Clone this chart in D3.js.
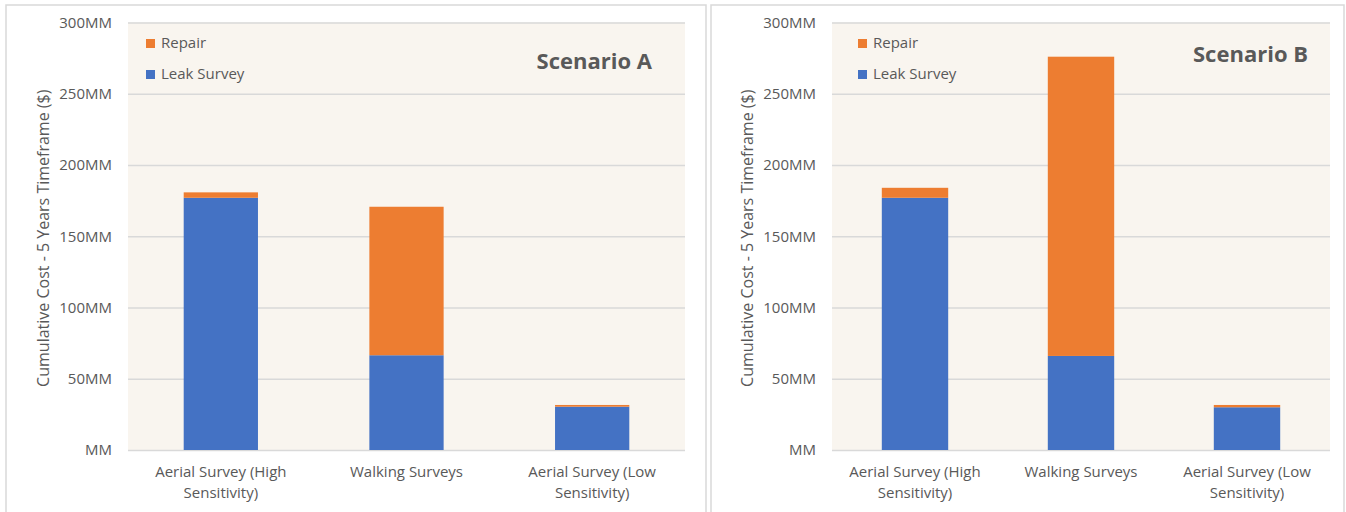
<!DOCTYPE html>
<html>
<head>
<meta charset="utf-8">
<script src="https://cdn.jsdelivr.net/npm/d3@7"></script>
<style>
  html, body { margin: 0; padding: 0; background: #ffffff; }
  svg { display: block; font-family: "Open Sans", "Noto Sans", sans-serif; }
</style>
</head>
<body>
<svg id="chart" width="1346" height="512"></svg>
<script>
// Survey approaches compared in both scenarios
const categories = ["Aerial Survey (High Sensitivity)", "Walking Surveys", "Aerial Survey (Low Sensitivity)"];

// Cumulative cost over 5 years, millions of dollars
const scenarioALeakSurvey = [177, 66.5, 30.4];
const scenarioARepair     = [3.8, 104.2, 1.2];
const scenarioBLeakSurvey = [177, 66, 30];
const scenarioBRepair     = [7, 210, 1.6];

const seriesNames = ["Leak Survey", "Repair"];
const legendOrder = ["Repair", "Leak Survey"];
const yTicks = [0, 50, 100, 150, 200, 250, 300];
const yTitle = "Cumulative Cost - 5 Years Timeframe ($)";

const colors = { "Leak Survey": "#4472C4", "Repair": "#ED7D31" };
const textColor = "#595959";

const svg = d3.select("#chart");

function wrapLabel(textSel, width) {
  textSel.each(function () {
    const text = d3.select(this);
    const words = text.text().split(/\s+/);
    const x = text.attr("x");
    const y = text.attr("y");
    text.text(null);
    let line = [];
    let lineNo = 0;
    let tspan = text.append("tspan").attr("x", x).attr("y", y);
    words.forEach(w => {
      line.push(w);
      tspan.text(line.join(" "));
      if (tspan.node().getComputedTextLength() > width && line.length > 1) {
        line.pop();
        tspan.text(line.join(" "));
        line = [w];
        lineNo++;
        tspan = text.append("tspan").attr("x", x).attr("y", y)
          .attr("dy", (lineNo * 21) + "px").text(w);
      }
    });
  });
}

function drawPanel(cfg) {
  const g = svg.append("g");

  // panel frame
  g.append("rect")
    .attr("x", cfg.frame[0]).attr("y", cfg.frame[1])
    .attr("width", cfg.frame[2]).attr("height", cfg.frame[3])
    .attr("fill", "#ffffff").attr("stroke", "#D9D9D9").attr("stroke-width", 1.5);

  const x = d3.scaleBand().domain(categories)
    .range([cfg.plot.left, cfg.plot.right]).paddingInner(0.6).paddingOuter(0.3);
  const y = d3.scaleLinear().domain([0, 300]).range([cfg.plot.bottom, cfg.plot.top]);

  // plot area fill
  g.append("rect")
    .attr("x", cfg.plot.left).attr("y", cfg.plot.top)
    .attr("width", cfg.plot.right - cfg.plot.left)
    .attr("height", cfg.plot.bottom - cfg.plot.top)
    .attr("fill", "#F9F5EF");

  // gridlines + y tick labels
  const yAxis = d3.axisLeft(y).tickValues(yTicks).tickSize(-(cfg.plot.right - cfg.plot.left))
    .tickPadding(16).tickFormat(d => d === 0 ? "MM" : d + "MM");
  const ya = g.append("g").attr("transform", `translate(${cfg.plot.left},0)`).call(yAxis)
    .attr("font-family", null).attr("font-size", null);
  ya.select(".domain").remove();
  ya.selectAll(".tick line").attr("stroke", "#D9D9D9").attr("stroke-width", 1.5);
  ya.selectAll(".tick text").attr("fill", textColor).style("font-size", "15px");

  // stacked bars
  const rows = categories.map((c, i) => ({ cat: c, "Leak Survey": cfg.leak[i], "Repair": cfg.repair[i] }));
  const stacked = d3.stack().keys(seriesNames)(rows);
  g.append("g").selectAll("g").data(stacked).join("g")
    .attr("fill", s => colors[s.key])
    .selectAll("rect").data(s => s).join("rect")
    .attr("x", d => x(d.data.cat))
    .attr("width", x.bandwidth())
    .attr("y", d => y(d[1]))
    .attr("height", d => y(d[0]) - y(d[1]));

  // x category labels
  const xa = g.append("g").attr("transform", `translate(0,${cfg.plot.bottom})`)
    .call(d3.axisBottom(x).tickSize(0).tickPadding(0))
    .attr("font-family", null).attr("font-size", null);
  xa.select(".domain").remove();
  xa.selectAll(".tick text").remove();
  xa.selectAll(".tick").append("text")
    .attr("x", 0).attr("y", 27)
    .attr("text-anchor", "middle")
    .attr("fill", textColor).style("font-size", "15px")
    .text(d => d)
    .call(wrapLabel, x.step() * 0.95);

  // y axis title
  g.append("text")
    .attr("transform", `translate(${cfg.yTitleX},${(cfg.plot.top + cfg.plot.bottom) / 2 + 2}) rotate(-90)`)
    .attr("text-anchor", "middle")
    .attr("fill", textColor).style("font-size", "16px")
    .text(yTitle);

  // legend
  legendOrder.forEach((name, i) => {
    const ly = cfg.legend[1] + i * 31;
    g.append("rect").attr("x", cfg.legend[0]).attr("y", ly - 9)
      .attr("width", 9).attr("height", 9).attr("fill", colors[name]);
    g.append("text").attr("x", cfg.legend[0] + 15).attr("y", ly)
      .attr("fill", textColor).style("font-size", "15px").text(name);
  });

  // scenario title
  g.append("text")
    .attr("x", cfg.title[0]).attr("y", cfg.title[1])
    .attr("text-anchor", "end")
    .attr("fill", textColor).style("font-size", "22px").style("font-weight", "bold")
    .text(cfg.titleText);
}

drawPanel({
  frame: [6, 5, 700, 520],
  plot: { left: 128, right: 685, top: 22.5, bottom: 450 },
  leak: scenarioALeakSurvey, repair: scenarioARepair,
  yTitleX: 49, legend: [146, 48], title: [652, 69], titleText: "Scenario A"
});

drawPanel({
  frame: [711, 5, 633, 520],
  plot: { left: 832, right: 1330, top: 22.5, bottom: 450 },
  leak: scenarioBLeakSurvey, repair: scenarioBRepair,
  yTitleX: 753, legend: [858, 48], title: [1308, 62], titleText: "Scenario B"
});
</script>
</body>
</html>
